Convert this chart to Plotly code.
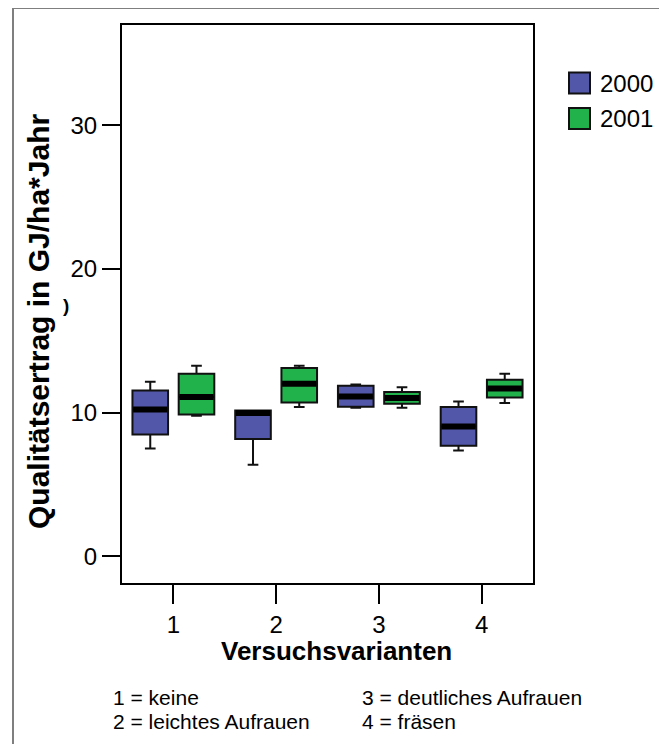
import plotly.graph_objects as go

# ---------------- data ----------------
categories = [1, 2, 3, 4]
tick_labels = ["1", "2", "3", "4"]
years = ["2000", "2001"]

# 2000
q1_2000 = [8.48, 8.16, 10.40, 7.69]
med_2000 = [10.22, 9.97, 11.12, 9.03]
q3_2000 = [11.54, 10.15, 11.87, 10.38]
lo_2000 = [7.50, 6.37, 10.33, 7.36]
hi_2000 = [12.14, 10.15, 11.96, 10.77]

# 2001
q1_2001 = [9.87, 10.70, 10.61, 11.05]
med_2001 = [11.08, 12.00, 11.01, 11.68]
q3_2001 = [12.70, 13.10, 11.43, 12.28]
lo_2001 = [9.78, 10.38, 10.33, 10.66]
hi_2001 = [13.26, 13.26, 11.77, 12.70]

y_ticks = [0, 10, 20, 30]
footnotes = ["1 = keine", "2 = leichtes Aufrauen", "3 = deutliches Aufrauen", "4 = fräsen"]

# ---------------- styling ----------------
OFF = 8  # page body margin
W, H = 667 - OFF, 744 - OFF
L, T = 122 - OFF, 25 - OFF
PW, PH = 533 - 122, 583 - 25
R, B = W - L - PW, H - T - PH
FONT = "Liberation Sans, Arial, sans-serif"
COL_2000 = "#5257aa"
COL_2001 = "#22b24c"
BOXGAP = 0.1
BOXGROUPGAP = 0.23


def px_x(px):
    return (px - OFF - L) / PW


def px_y(py):
    return 1 - (py - OFF - T) / PH


fig = go.Figure()

for name, q1, med, q3, lo, hi, col in [
    (years[0], q1_2000, med_2000, q3_2000, lo_2000, hi_2000, COL_2000),
    (years[1], q1_2001, med_2001, q3_2001, lo_2001, hi_2001, COL_2001),
]:
    fig.add_trace(go.Box(
        name=name, x=categories, q1=q1, median=med, q3=q3,
        lowerfence=lo, upperfence=hi, boxpoints=False,
        fillcolor=col, line=dict(color="#111111", width=2),
        whiskerwidth=0.3, showlegend=False, hoverinfo="skip",
    ))

# thick median bars, placed at the grouped box positions
offset = 0.5 * 0.5 * (1 - BOXGAP)
for sign, med in [(-1, med_2000), (1, med_2001)]:
    fig.add_trace(go.Scatter(
        x=[c + sign * offset for c in categories], y=med, mode="markers",
        marker=dict(symbol="line-ew", size=24.5, line=dict(color="black", width=6)),
        showlegend=False, hoverinfo="skip",
    ))

fig.update_layout(
    width=W, height=H,
    margin=dict(l=L, r=R, t=T, b=B),
    paper_bgcolor="white", plot_bgcolor="white",
    boxmode="group", boxgap=BOXGAP, boxgroupgap=BOXGROUPGAP,
    showlegend=False,
    font=dict(family=FONT, color="black"),
)

fig.update_xaxes(
    type="linear", range=[0.5, 4.5], tickvals=categories, ticktext=tick_labels,
    showgrid=False, zeroline=False, showline=True, mirror=True,
    linecolor="black", linewidth=2, ticks="outside", ticklen=19, tickwidth=2,
    tickcolor="black", tickfont=dict(size=24, family=FONT),
)
fig.update_yaxes(
    range=[-1.86, 36.97], tickvals=y_ticks,
    showgrid=False, zeroline=False, showline=True, mirror=True,
    linecolor="black", linewidth=2, ticks="outside", ticklen=18, tickwidth=2,
    tickcolor="black", tickfont=dict(size=24, family=FONT),
)

ann = []
# axis titles
ann.append(dict(text="<b>Qualitätsertrag in GJ/ha*Jahr</b>", x=px_x(38), y=px_y(322),
                xref="paper", yref="paper", textangle=-90, showarrow=False,
                font=dict(size=30, family=FONT), xanchor="center", yanchor="middle"))
ann.append(dict(text="<b>Versuchsvarianten</b>", x=px_x(336), y=px_y(651),
                xref="paper", yref="paper", showarrow=False,
                font=dict(size=26, family=FONT), xanchor="center", yanchor="middle"))
ann.append(dict(text="<b>)</b>", x=px_x(66), y=px_y(305),
                xref="paper", yref="paper", showarrow=False,
                font=dict(size=19, family=FONT), xanchor="center", yanchor="middle"))
# footnotes
for txt, xp, yp in [(footnotes[0], 111, 697), (footnotes[1], 111, 721),
                    (footnotes[2], 360, 697), (footnotes[3], 360, 721)]:
    ann.append(dict(text=txt, x=px_x(xp), y=px_y(yp), xref="paper", yref="paper",
                    showarrow=False, font=dict(size=21, family=FONT),
                    xanchor="left", yanchor="middle"))
# manual legend
shapes = []
for name, col, yc in [(years[0], COL_2000, 83), (years[1], COL_2001, 118.5)]:
    shapes.append(dict(type="rect", xref="paper", yref="paper",
                       x0=px_x(569), x1=px_x(590), y0=px_y(yc - 10.5), y1=px_y(yc + 10.5),
                       fillcolor=col, line=dict(color="#111111", width=2)))
    ann.append(dict(text=name, x=px_x(598), y=px_y(yc), xref="paper", yref="paper",
                    showarrow=False, font=dict(size=24, family=FONT),
                    xanchor="left", yanchor="middle"))
# outer frame
shapes.append(dict(type="rect", xref="paper", yref="paper",
                   x0=px_x(13), x1=px_x(663), y0=px_y(8), y1=px_y(760),
                   fillcolor="rgba(0,0,0,0)", line=dict(color="#7f7f7f", width=2)))

fig.update_layout(annotations=ann, shapes=shapes)

fig.write_html("out.html")
